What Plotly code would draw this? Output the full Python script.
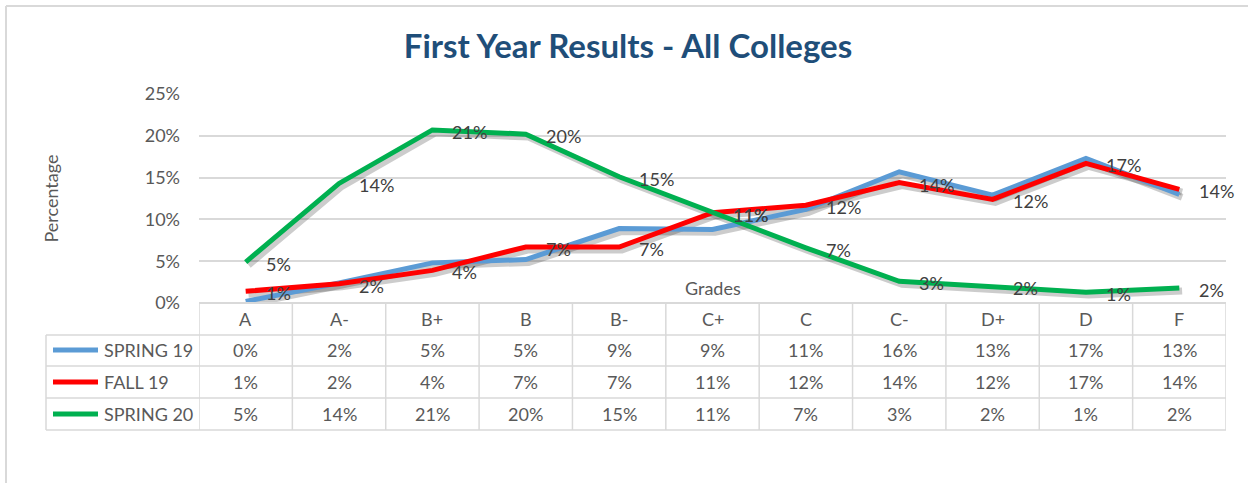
import plotly.graph_objects as go

grades = ["A", "A-", "B+", "B", "B-", "C+", "C", "C-", "D+", "D", "F"]
series_names = ["SPRING 19", "FALL 19", "SPRING 20"]
spring19 = [0.002, 0.024, 0.048, 0.052, 0.089, 0.088, 0.112, 0.157, 0.129, 0.173, 0.130]
fall19 = [0.014, 0.023, 0.039, 0.067, 0.067, 0.108, 0.117, 0.144, 0.124, 0.167, 0.136]
spring20 = [0.049, 0.143, 0.207, 0.202, 0.151, 0.108, 0.066, 0.026, 0.020, 0.013, 0.018]
y_ticks = [0, 0.05, 0.10, 0.15, 0.20, 0.25]

series = [spring19, fall19, spring20]
colors = ["#5B9BD5", "#FF0000", "#00B050"]
labelled = [False, True, True]

W, H = 1248, 483
L, R, T, B = 199, 1226, 94, 303
FONT = "Lato, Calibri, Carlito, sans-serif"
FS = 18
GRAY = "#595959"
LINE = "#D9D9D9"


def px_x(p):
    return (p - L) / (R - L)


def px_y(p):
    return (B - p) / (B - T)


xs = list(range(len(grades)))
fig = go.Figure()

# soft shadows under the lines
for vals in series:
    fig.add_trace(go.Scatter(
        x=[x + 0.03 for x in xs], y=[v - 0.0035 for v in vals], mode="lines",
        line=dict(color="rgba(0,0,0,0.2)", width=7), hoverinfo="skip", showlegend=False))

for name, vals, col in zip(series_names, series, colors):
    fig.add_trace(go.Scatter(
        x=xs, y=vals, mode="lines", name=name,
        line=dict(color=col, width=5), showlegend=False))

annotations = []
# data labels
for vals, lab in zip(series, labelled):
    if not lab:
        continue
    for x, v in zip(xs, vals):
        annotations.append(dict(
            x=x, y=v, xref="x", yref="y", text=f"{v:.0%}", showarrow=False,
            xanchor="left", yanchor="middle", xshift=18, yshift=-2,
            font=dict(family=FONT, size=FS, color="#404040")))

# table header
row_c = [319, 350, 382, 414]
for x, g in zip(xs, grades):
    annotations.append(dict(
        x=x, y=px_y(row_c[0]), xref="x", yref="paper", text=g, showarrow=False,
        xanchor="center", yanchor="middle",
        font=dict(family=FONT, size=FS, color=GRAY)))
# table body
for r, (name, vals) in enumerate(zip(series_names, series)):
    yc = px_y(row_c[r + 1])
    for x, v in zip(xs, vals):
        annotations.append(dict(
            x=x, y=yc, xref="x", yref="paper", text=f"{v:.0%}", showarrow=False,
            xanchor="center", yanchor="middle",
            font=dict(family=FONT, size=FS, color=GRAY)))
    annotations.append(dict(
        x=px_x(102), y=yc, xref="paper", yref="paper", text=name, showarrow=False,
        xanchor="left", yanchor="middle", font=dict(family=FONT, size=FS, color=GRAY)))

# axis titles
annotations.append(dict(
    x=px_x(713), y=px_y(288), xref="paper", yref="paper", text="Grades", showarrow=False,
    xanchor="center", yanchor="middle", font=dict(family=FONT, size=FS, color=GRAY)))
annotations.append(dict(
    x=px_x(50), y=0.5, xref="paper", yref="paper", text="Percentage", showarrow=False,
    xanchor="center", yanchor="middle",
    textangle=-90, font=dict(family=FONT, size=FS, color=GRAY)))

shapes = []
# table lines
for yy in [335, 366, 398, 430]:
    shapes.append(dict(type="line", xref="paper", yref="paper", x0=px_x(46), x1=1,
                       y0=px_y(yy), y1=px_y(yy), line=dict(color=LINE, width=1.5)))
shapes.append(dict(type="line", xref="paper", yref="paper", x0=0, x1=1,
                   y0=0, y1=0, line=dict(color=LINE, width=2)))
shapes.append(dict(type="line", xref="paper", yref="paper", x0=px_x(46), x1=px_x(46),
                   y0=px_y(335), y1=px_y(430), line=dict(color=LINE, width=1.5)))
for i in range(len(grades) + 1):
    shapes.append(dict(type="line", xref="x", yref="paper", x0=i - 0.5, x1=i - 0.5,
                       y0=0, y1=px_y(430), line=dict(color=LINE, width=1.5)))
# legend keys
for r, col in enumerate(colors):
    yc = px_y(row_c[r + 1])
    shapes.append(dict(type="line", xref="paper", yref="paper", x0=px_x(53), x1=px_x(98),
                       y0=yc, y1=yc, line=dict(color=col, width=5)))
# chart border (top and left visible)
shapes.append(dict(type="line", xref="paper", yref="paper", x0=px_x(6), x1=px_x(1260),
                   y0=px_y(6), y1=px_y(6), line=dict(color=LINE, width=2)))
shapes.append(dict(type="line", xref="paper", yref="paper", x0=px_x(6), x1=px_x(6),
                   y0=px_y(6), y1=px_y(490), line=dict(color=LINE, width=2)))

fig.update_layout(
    width=W, height=H,
    margin=dict(l=L, r=W - R, t=T, b=H - B, pad=0),
    paper_bgcolor="white", plot_bgcolor="white",
    title=dict(text="<b>First Year Results - All Colleges</b>", x=628 / W, xref="container",
               xanchor="center", y=1 - 46 / H, yref="container", yanchor="middle",
               font=dict(family=FONT, size=33, color="#1F4E79")),
    xaxis=dict(range=[-0.5, len(grades) - 0.5], showgrid=False, zeroline=False,
               showticklabels=False, showline=False, fixedrange=True),
    yaxis=dict(range=[0, 0.25], tickvals=y_ticks, tickformat=".0%", showgrid=True,
               gridcolor=LINE, gridwidth=1.5, zeroline=False, showline=False,
               ticklabelstandoff=18, tickfont=dict(family=FONT, size=FS, color=GRAY)),
    annotations=annotations, shapes=shapes,
)

fig.write_html(
    "out.html",
    config={"displayModeBar": False},
    post_script="document.body.style.margin='0';document.body.style.overflow='hidden';",
)
